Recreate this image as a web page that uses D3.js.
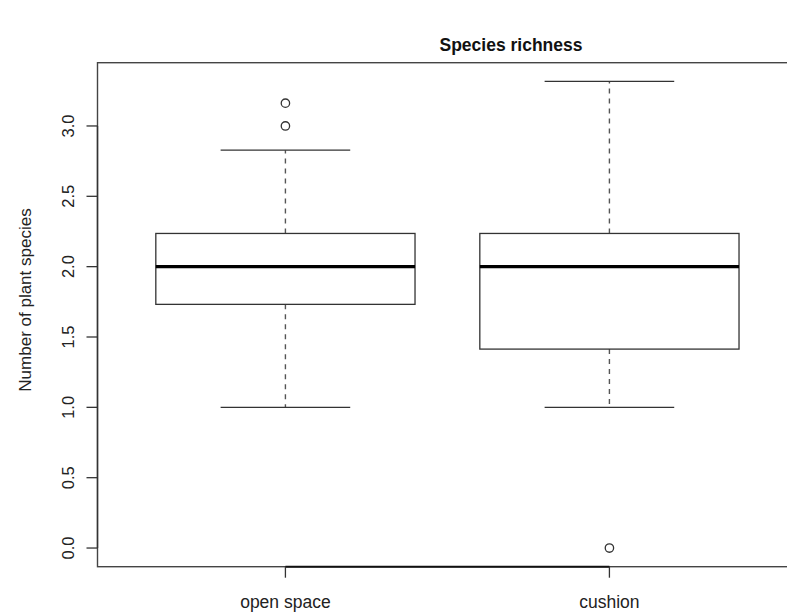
<!DOCTYPE html>
<html><head><meta charset="utf-8">
<script src="https://cdn.jsdelivr.net/npm/d3@7"></script>
<style>body{margin:0;background:#fff}svg{display:block}</style>
</head><body>
<script>
const categories = ["open space", "cushion"];
const lowerWhisker = [1.0, 1.0];
const q1 = [1.732, 1.414];
const median = [2.0, 2.0];
const q3 = [2.236, 2.236];
const upperWhisker = [2.828, 3.317];
const outliers = [[3.0, 3.162], [0.0]];
const yTicks = [0, 0.5, 1, 1.5, 2, 2.5, 3];
const title = "Species richness";
const yTitle = "Number of plant species";

const W = 787, H = 612;
const svg = d3.select("body").append("svg").attr("width", W).attr("height", H);

const x = d3.scaleLinear().domain([0.42, 2.58]).range([97.5, 97.5 + 2.16 * 324]);
const y = d3.scaleLinear().domain([-0.1327, 3.4497]).range([566.7, 62.7]);
const col = "#333";
const font = "Liberation Sans, Arial, sans-serif";

// frame
svg.append("rect").attr("x", x(0.42)).attr("y", y(3.4497))
  .attr("width", x(2.58) - x(0.42)).attr("height", y(-0.1327) - y(3.4497))
  .attr("fill", "none").attr("stroke", "#444").attr("stroke-width", 1.4);

const boxHalf = 0.4, capHalf = 0.2;
categories.forEach((c, i) => {
  const cx = i + 1;
  const g = svg.append("g");
  g.append("line").attr("x1", x(cx)).attr("x2", x(cx)).attr("y1", y(q3[i])).attr("y2", y(upperWhisker[i]))
    .attr("stroke", "#555").attr("stroke-width", 1.4).attr("stroke-dasharray", "5,5");
  g.append("line").attr("x1", x(cx)).attr("x2", x(cx)).attr("y1", y(q1[i])).attr("y2", y(lowerWhisker[i]))
    .attr("stroke", "#555").attr("stroke-width", 1.4).attr("stroke-dasharray", "5,5");
  [upperWhisker[i], lowerWhisker[i]].forEach(v => {
    g.append("line").attr("x1", x(cx - capHalf)).attr("x2", x(cx + capHalf)).attr("y1", y(v)).attr("y2", y(v))
      .attr("stroke", col).attr("stroke-width", 1.3);
  });
  g.append("rect").attr("x", x(cx - boxHalf)).attr("y", y(q3[i]))
    .attr("width", x(cx + boxHalf) - x(cx - boxHalf)).attr("height", y(q1[i]) - y(q3[i]))
    .attr("fill", "none").attr("stroke", col).attr("stroke-width", 1.3);
  g.append("line").attr("x1", x(cx - boxHalf)).attr("x2", x(cx + boxHalf)).attr("y1", y(median[i])).attr("y2", y(median[i]))
    .attr("stroke", "#000").attr("stroke-width", 3.3);
  outliers[i].forEach(v => {
    g.append("circle").attr("cx", x(cx)).attr("cy", y(v)).attr("r", 4.2)
      .attr("fill", "none").attr("stroke", col).attr("stroke-width", 1.3);
  });
});

// y axis
const ya = svg.append("g");
ya.append("line").attr("x1", x(0.42)).attr("x2", x(0.42)).attr("y1", y(0)).attr("y2", y(3)).attr("stroke", col).attr("stroke-width", 1.4);
yTicks.forEach(t => {
  ya.append("line").attr("x1", x(0.42) - 11).attr("x2", x(0.42)).attr("y1", y(t)).attr("y2", y(t)).attr("stroke", col).attr("stroke-width", 1.3);
  ya.append("text").attr("transform", `translate(74,${y(t)}) rotate(-90)`)
    .attr("text-anchor", "middle").attr("font-family", font)
    .attr("font-size", 16.5).attr("fill", "#222").text(d3.format(".1f")(t));
});

// x axis
const xa = svg.append("g");
xa.append("line").attr("x1", x(1)).attr("x2", x(2)).attr("y1", y(-0.1327)).attr("y2", y(-0.1327)).attr("stroke", "#111").attr("stroke-width", 2);
categories.forEach((c, i) => {
  xa.append("line").attr("x1", x(i + 1)).attr("x2", x(i + 1)).attr("y1", y(-0.1327)).attr("y2", y(-0.1327) + 11).attr("stroke", col).attr("stroke-width", 1.3);
  xa.append("text").attr("x", x(i + 1)).attr("y", 608).attr("text-anchor", "middle")
    .attr("font-family", font).attr("font-size", 17.5).attr("fill", "#222").text(c);
});

// titles
svg.append("text").attr("x", 511).attr("y", 51).attr("text-anchor", "middle")
  .attr("font-family", font).attr("font-weight", "bold").attr("font-size", 17.5).attr("fill", "#111").text(title);
svg.append("text").attr("transform", "translate(31,300) rotate(-90)").attr("text-anchor", "middle")
  .attr("font-family", font).attr("font-size", 17).attr("fill", "#222").text(yTitle);
</script>
</body></html>
